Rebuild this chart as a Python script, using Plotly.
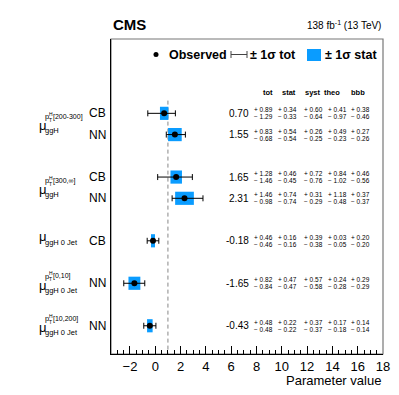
import plotly.graph_objects as go

# parametros por fila (de arriba abajo)
row_labels = ["CB", "NN", "CB", "NN", "CB", "NN", "NN"]
row_pos = [0, 1, 3, 4, 6, 8, 10]
best = [0.70, 1.55, 1.65, 2.31, -0.18, -1.65, -0.43]
tot_hi = [0.89, 0.83, 1.28, 1.46, 0.46, 0.82, 0.48]
tot_lo = [1.29, 0.68, 1.46, 0.98, 0.46, 0.84, 0.48]
stat_hi = [0.34, 0.54, 0.46, 0.74, 0.16, 0.47, 0.22]
stat_lo = [0.33, 0.54, 0.45, 0.74, 0.16, 0.47, 0.22]
syst_hi = [0.60, 0.26, 0.72, 0.31, 0.39, 0.57, 0.37]
syst_lo = [0.64, 0.25, 0.76, 0.29, 0.38, 0.58, 0.37]
theo_hi = [0.41, 0.49, 0.84, 1.18, 0.03, 0.24, 0.17]
theo_lo = [0.97, 0.23, 1.02, 0.48, 0.05, 0.28, 0.18]
bbb_hi = [0.38, 0.27, 0.46, 0.37, 0.20, 0.29, 0.14]
bbb_lo = [0.46, 0.26, 0.56, 0.37, 0.20, 0.29, 0.14]

# grupos de parametros (etiqueta izquierda)
group_sup = ["[200-300]", "[300,∞]", None, "[0,10]", "[10,200]"]
group_sub = ["ggH", "ggH", "ggH 0 Jet", "ggH 0 Jet", "ggH 0 Jet"]
group_rows = [[0, 1], [3, 4], [6], [8], [10]]

col_names = ["tot", "stat", "syst", "theo", "bbb"]
col_hi = [tot_hi, stat_hi, syst_hi, theo_hi, bbb_hi]
col_lo = [tot_lo, stat_lo, syst_lo, theo_lo, bbb_lo]

FONT = "Liberation Sans, Arial, sans-serif"
BLUE = "#0a9cff"
L, R, T, B = 111, 16, 39, 41
PW = 399 - L - R
PH = 395 - T - B


def px(x):
    # pixel horizontal -> coordenada paper
    return (x - L) / PW


def py(y):
    # pixel vertical -> coordenada paper
    return 1 - (y - T) / PH


fig = go.Figure()

# caja stat
fig.add_trace(go.Bar(
    y=row_pos,
    x=[lo + hi for lo, hi in zip(stat_lo, stat_hi)],
    base=[b - lo for b, lo in zip(best, stat_lo)],
    orientation="h",
    width=0.62,
    marker=dict(color=BLUE, line=dict(width=0)),
    showlegend=False,
    hoverinfo="skip",
))

# observado + error total
fig.add_trace(go.Scatter(
    x=best, y=row_pos,
    mode="markers",
    marker=dict(color="black", size=6),
    error_x=dict(type="data", symmetric=False, array=tot_hi, arrayminus=tot_lo,
                 color="black", thickness=1, width=3),
    showlegend=False,
))

ann = []
# valores y tabla
for i, y in enumerate(row_pos):
    ann.append(dict(x=px(251), y=y, xref="paper", yref="y", text=f"{best[i]:.2f}",
                    xanchor="right", yanchor="middle", showarrow=False,
                    font=dict(size=10, family=FONT)))
    ann.append(dict(x=px(108), y=y, xref="paper", yref="y", text=row_labels[i],
                    xanchor="right", yanchor="middle", showarrow=False,
                    font=dict(size=12, family=FONT)))
    for j, cx in enumerate([252, 287, 313, 337, 360]):
        anchor = "left" if j == 0 else "center"
        ann.append(dict(x=px(cx), y=y, xref="paper", yref="y", yshift=3.5,
                        text=f"+ {col_hi[j][i]:.2f}", xanchor=anchor, yanchor="middle",
                        showarrow=False, font=dict(size=6.5, family=FONT)))
        ann.append(dict(x=px(cx), y=y, xref="paper", yref="y", yshift=-3.5,
                        text=f"− {col_lo[j][i]:.2f}", xanchor=anchor, yanchor="middle",
                        showarrow=False, font=dict(size=6.5, family=FONT)))

for name, cx in zip(col_names, [268, 289, 313, 332, 358]):
    ann.append(dict(x=px(cx), y=-1.0, xref="paper", yref="y", text=f"<b>{name}</b>",
                    xanchor="center", yanchor="middle", showarrow=False,
                    font=dict(size=7.5, family=FONT)))

# etiquetas mu
for sup, sub, rows in zip(group_sup, group_sub, group_rows):
    yc = sum(rows) / len(rows)
    base = dict(xref="paper", yref="y", y=yc, showarrow=False, yanchor="middle",
                xanchor="left")
    if sup is None:
        ann.append(dict(base, x=px(37), yshift=4, text="μ", font=dict(size=13, family=FONT)))
        ann.append(dict(base, x=px(43), yshift=-2, text=sub, font=dict(size=7.5, family=FONT)))
        continue
    ann.append(dict(base, x=px(37), yshift=-2, text="μ", font=dict(size=13, family=FONT)))
    ann.append(dict(base, x=px(42.5), yshift=7, text="p", font=dict(size=7.5, family=FONT)))
    ann.append(dict(base, x=px(46.5), yshift=10, text="H", font=dict(size=5, family=FONT)))
    ann.append(dict(base, x=px(46.5), yshift=4, text="T", font=dict(size=5, family=FONT)))
    ann.append(dict(base, x=px(51), yshift=7, text=sup, font=dict(size=7, family=FONT)))
    ann.append(dict(base, x=px(43), yshift=-7, text=sub, font=dict(size=7.5, family=FONT)))

# cabecera CMS
ann.append(dict(x=0, y=1, xref="paper", yref="paper", yshift=4, text="<b>CMS</b>",
                xanchor="left", yanchor="bottom", showarrow=False,
                font=dict(size=15, family=FONT)))
ann.append(dict(x=1, y=1, xref="paper", yref="paper", yshift=6,
                text="138 fb<sup>-1</sup> (13 TeV)", xanchor="right", yanchor="bottom",
                showarrow=False, font=dict(size=10, family=FONT)))

# titulo del eje x alineado a la derecha
ann.append(dict(x=1, y=py(380), xref="paper", yref="paper", text="Parameter value",
                xanchor="right", yanchor="middle", showarrow=False,
                font=dict(size=13, family=FONT)))

# leyenda manual
ly = py(54.5)
for x0, txt in [(167, "<b>Observed</b>"), (248, "<b>± 1σ tot</b>"), (323, "<b>± 1σ stat</b>")]:
    ann.append(dict(x=px(x0), y=ly, xref="paper", yref="paper", text=txt,
                    xanchor="left", yanchor="middle", showarrow=False,
                    font=dict(size=12.5, family=FONT)))

fig.add_trace(go.Scatter(x=[px(156)], y=[ly], xaxis="x2", yaxis="y2", mode="markers",
                         marker=dict(color="black", size=5), showlegend=False,
                         hoverinfo="skip"))

shapes = [
    dict(type="rect", xref="paper", yref="paper", x0=0, x1=1, y0=0, y1=1,
         line=dict(color="#777", width=1.2), layer="below"),
    dict(type="line", xref="x", yref="y", x0=1, x1=1, y0=-0.6, y1=11.33,
         line=dict(color="#888", width=1, dash="4px,3px"), layer="below"),
    dict(type="rect", xref="paper", yref="paper", x0=px(307), x1=px(321),
         y0=py(61), y1=py(49), fillcolor=BLUE, line=dict(width=0)),
    dict(type="line", xref="paper", yref="paper", x0=px(231), x1=px(247), y0=ly, y1=ly,
         line=dict(color="#444", width=1)),
    dict(type="line", xref="paper", yref="paper", x0=px(231), x1=px(231),
         y0=py(58), y1=py(51), line=dict(color="#444", width=1)),
    dict(type="line", xref="paper", yref="paper", x0=px(247), x1=px(247),
         y0=py(58), y1=py(51), line=dict(color="#444", width=1)),
]

fig.update_layout(
    width=399, height=395,
    margin=dict(l=L, r=R, t=T, b=B, autoexpand=False),
    plot_bgcolor="white", paper_bgcolor="white",
    font=dict(family=FONT, color="black"),
    barmode="overlay",
    annotations=ann,
    shapes=shapes,
    xaxis=dict(range=[-3.5, 18], tick0=0, dtick=2, ticks="inside", ticklen=8,
               tickwidth=1, tickcolor="black", showgrid=False, zeroline=False,
               showline=True, linecolor="black", linewidth=1, automargin=False,
               tickfont=dict(size=13, family=FONT),
               minor=dict(dtick=0.5, ticks="inside", ticklen=4, tickcolor="black",
                          showgrid=False)),
    yaxis=dict(range=[11.33, -3.5], showticklabels=False, ticks="", showgrid=False,
               zeroline=False, showline=True, linecolor="black", linewidth=1,
               automargin=False),
    xaxis2=dict(range=[0, 1], overlaying="x", visible=False),
    yaxis2=dict(range=[0, 1], overlaying="y", visible=False),
)

# quitar el margen del body para que el grafico empiece en (0, 0)
fig.write_html("out.html", config={"displayModeBar": False},
               post_script="document.body.style.margin='0px';")
